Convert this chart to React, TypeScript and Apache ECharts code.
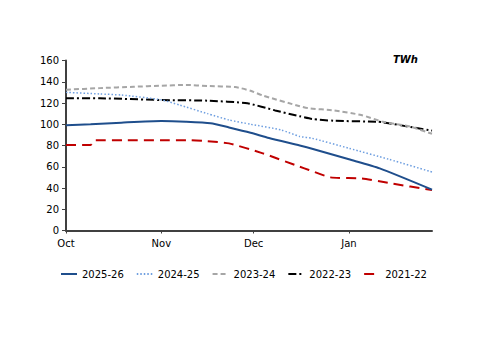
import React, { useEffect, useRef } from "react";
import * as echarts from "echarts";

// x = days since 1 October
const monthTicks = [0, 31, 61, 92];
const monthLabels = ["Oct", "Nov", "Dec", "Jan"];
const yTicks = [0, 20, 40, 60, 80, 100, 120, 140, 160];

const s2025_26: [number, number][] = [
  [0, 99], [8, 100], [18, 101.5], [31, 103], [39, 102.4], [47, 101], [53, 97],
  [60, 92], [66, 87], [76, 80], [80, 77], [92, 67], [102, 58.5], [119, 38.5],
];
const s2024_25: [number, number][] = [
  [0, 130], [11, 128.5], [18, 127.5], [31, 123], [37, 118], [46, 110], [53, 104],
  [60, 100], [70, 94.6], [76, 88.5], [80, 86.8], [92, 77.4], [105, 67], [119, 55],
];
const s2023_24: [number, number][] = [
  [0, 132.5], [11, 134], [22, 135.3], [31, 136.3], [39, 137], [46, 136], [55, 135],
  [60, 131.5], [64, 127], [76, 117], [79, 115], [87, 113], [96, 108.7], [103, 102.4],
  [112, 97.7], [119, 91],
];
const s2022_23: [number, number][] = [
  [0, 124.4], [11, 124.4], [31, 122.8], [46, 122.2], [59, 119.7], [68, 113],
  [76, 107.5], [80, 105], [87, 103.3], [101, 102.4], [103, 101.8], [112, 97.5], [119, 94],
];
const s2021_22: [number, number][] = [
  [0, 80.5], [8, 80.5], [9.5, 85], [20, 85], [31, 85], [40, 85], [46, 84], [53, 82],
  [64, 72.6], [76, 60], [79, 57], [86, 50], [96, 49], [105.5, 44.4], [119, 38],
];

const seriesNames = ["2025-26", "2024-25", "2023-24", "2022-23", "2021-22"];

export default function App() {
  const ref = useRef<HTMLDivElement>(null);
  useEffect(() => {
    document.body.style.margin = "0";
    if (!ref.current) return;
    const chart = echarts.init(ref.current, null, { renderer: "svg" });
    const font = "DejaVu Sans";
    const mk = (name: string, data: [number, number][], color: string, width: number, type: any) => ({
      name,
      type: "line",
      data,
      symbol: "none",
      smooth: 0.2,
      lineStyle: { color, width, type },
      itemStyle: { color },
    });
    chart.setOption({
      animation: false,
      textStyle: { fontFamily: font },
      grid: { left: 66, right: 68, top: 60.5, bottom: 122.5 },
      graphic: [
        {
          type: "text",
          left: 393,
          top: 54,
          style: { text: "TWh", font: "italic bold 10px " + font, fill: "#000" },
        },
      ],
      legend: {
        left: 55,
        top: 264,
        itemWidth: 16,
        itemHeight: 10,
        itemGap: 12,
        itemStyle: { opacity: 0 },
        textStyle: { fontFamily: font, fontSize: 10, color: "#000" },
        data: seriesNames,
      },
      xAxis: {
        type: "value",
        min: 0,
        max: 119,
        splitLine: { show: false },
        axisLine: { lineStyle: { color: "#404040", width: 2 } },
        axisTick: { show: true, length: 3, customValues: monthTicks, lineStyle: { color: "#404040" } },
        axisLabel: {
          customValues: monthTicks,
          margin: 8,
          fontSize: 10,
          color: "#000",
          fontFamily: font,
          formatter: (v: number) => monthLabels[monthTicks.indexOf(v)] ?? "",
        },
      },
      yAxis: {
        type: "value",
        min: 0,
        max: 160,
        interval: 20,
        splitLine: { show: false },
        axisLine: { show: true, lineStyle: { color: "#404040", width: 2 } },
        axisTick: { show: true, length: 4, lineStyle: { color: "#404040" } },
        axisLabel: {
          margin: 7,
          fontSize: 10,
          color: "#000",
          fontFamily: font,
          formatter: (v: number) => (yTicks.includes(v) ? String(v) : ""),
        },
      },
      series: [
        mk(seriesNames[4], s2021_22, "#c00000", 2, [10, 6]),
        mk(seriesNames[3], s2022_23, "#000000", 2, [8, 3, 2, 3]),
        mk(seriesNames[2], s2023_24, "#a6a6a6", 2, [5, 3]),
        mk(seriesNames[1], s2024_25, "#6f9fe0", 1.5, [1.5, 2]),
        mk(seriesNames[0], s2025_26, "#1f4e8c", 2, "solid"),
      ],
    });
    return () => chart.dispose();
  }, []);
  return <div ref={ref} style={{ width: 500, height: 353 }} />;
}
